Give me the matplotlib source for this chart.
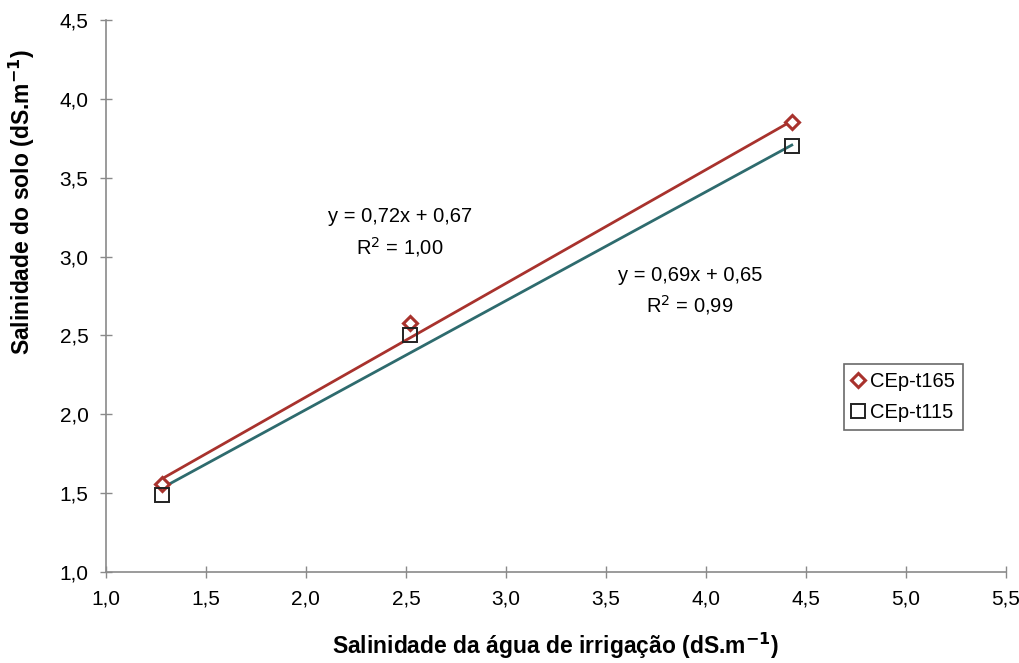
import matplotlib.pyplot as plt
import numpy as np

plt.rcParams['font.family'] = ['Liberation Sans', 'DejaVu Sans']

# data
water_salinity = [1.28, 2.52, 4.43]
soil_t165 = [1.56, 2.58, 3.85]
soil_t115 = [1.49, 2.50, 3.70]
series_names = ['CEp-t165', 'CEp-t115']
# linear trend lines (slope, intercept) and R² as printed
fit_t165 = [0.72, 0.67]
fit_t115 = [0.69, 0.65]
eq_t165 = 'y = 0,72x + 0,67\nR$^2$ = 1,00'
eq_t115 = 'y = 0,69x + 0,65\nR$^2$ = 0,99'

xticks = np.arange(1.0, 5.51, 0.5)
yticks = np.arange(1.0, 4.51, 0.5)

red = '#a8322d'
teal = '#2e6b6e'
gray = '#8a8a8a'

fig = plt.figure(figsize=(10.19, 6.63), dpi=100)
ax = fig.add_axes([0.104, 0.137, 0.883, 0.833])

# trend lines
xs = np.array([water_salinity[0], water_salinity[-1]])
ax.plot(xs, np.polyval(fit_t165, xs), color=red, lw=2.0, zorder=2)
ax.plot(xs, np.polyval(fit_t115, xs), color=teal, lw=2.0, zorder=2)

# observed points
ax.plot(water_salinity, soil_t165, ls='none', marker='D', ms=7, mfc='white',
        mec=red, mew=2.2, label=series_names[0], zorder=3)
ax.plot(water_salinity, soil_t115, ls='none', marker='s', ms=10, mfc='none',
        mec='#222222', mew=1.4, label=series_names[1], zorder=3)

ax.text(2.47, 3.15, eq_t165, ha='center', va='center', fontsize=14.5,
        linespacing=1.45)
ax.text(3.92, 2.78, eq_t115, ha='center', va='center', fontsize=14.5,
        linespacing=1.45)

ax.set_xlim(1.0, 5.5)
ax.set_ylim(1.0, 4.5)
ax.set_xticks(xticks)
ax.set_yticks(yticks)
ax.set_xticklabels([f'{v:.1f}'.replace('.', ',') for v in xticks])
ax.set_yticklabels([f'{v:.1f}'.replace('.', ',') for v in yticks])
ax.tick_params(direction='inout', length=9, width=1, color=gray,
               labelsize=15, pad=8)

for side in ['top', 'right']:
    ax.spines[side].set_visible(False)
for side in ['left', 'bottom']:
    ax.spines[side].set_color(gray)
    ax.spines[side].set_linewidth(1.2)

ax.set_xlabel('Salinidade da água de irrigação (dS.m$^{\\mathbf{-1}}$)',
              fontsize=16.5, fontweight='bold', labelpad=16)
ax.set_ylabel('Salinidade do solo (dS.m$^{\\mathbf{-1}}$)',
              fontsize=16.5, fontweight='bold')
ax.yaxis.set_label_coords(-0.077, 0.67)

leg = ax.legend(loc='upper left', bbox_to_anchor=(0.82, 0.377), fontsize=14.5,
                frameon=True, fancybox=False, handlelength=0.6,
                handletextpad=0.3, borderpad=0.4, labelspacing=0.6,
                borderaxespad=0)
leg.get_frame().set_edgecolor('#444444')
leg.get_frame().set_linewidth(1.2)

fig.savefig('out.png', dpi=100, facecolor='white')
